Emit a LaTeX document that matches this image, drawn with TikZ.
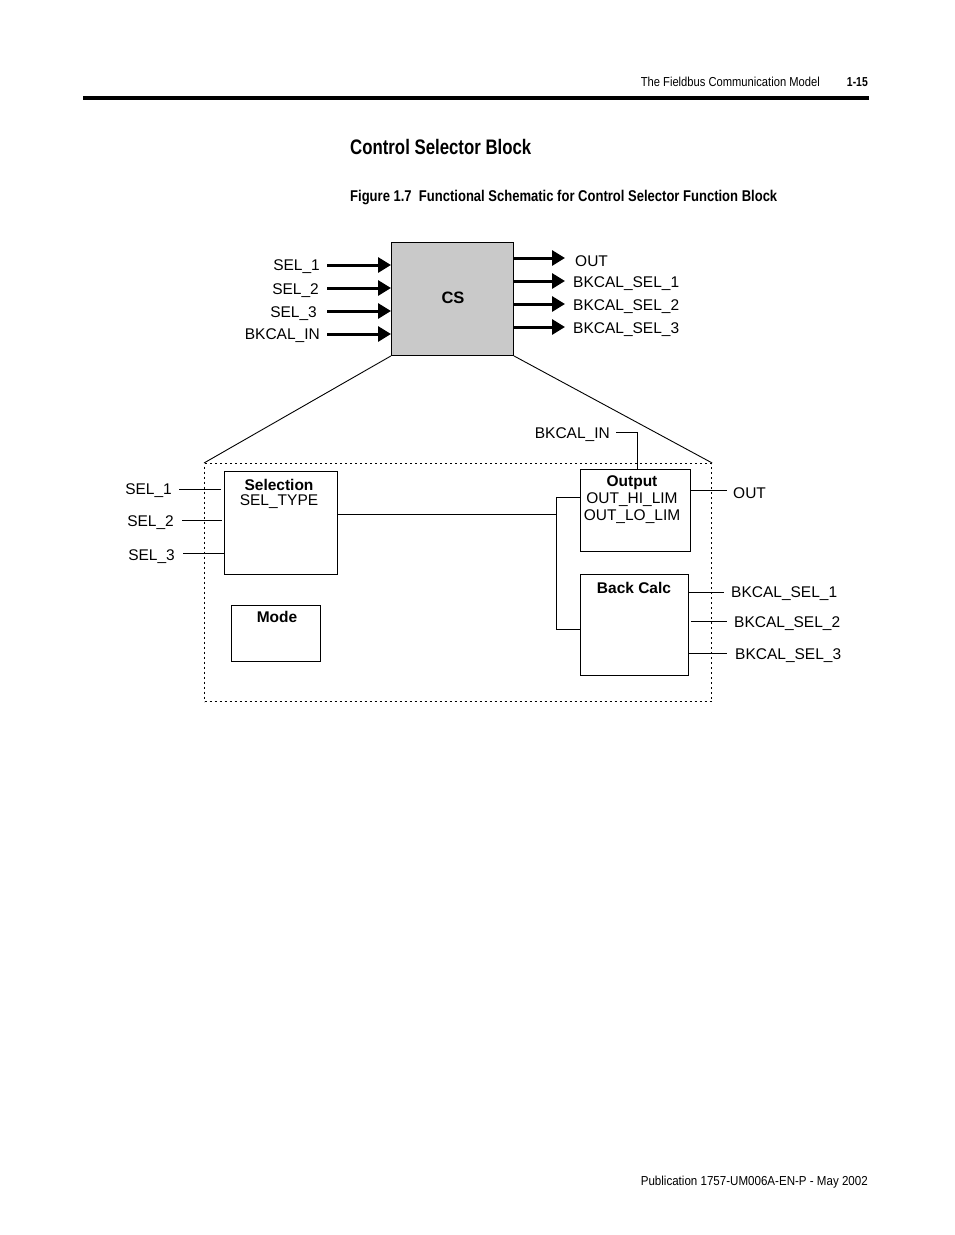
\documentclass[tikz,border=0pt]{standalone}
\usepackage{fontspec}
\setmainfont{Liberation Sans}
\newfontfamily\condfont[FakeStretch=0.89]{Liberation Sans}
\newfontfamily\hdrfont[FakeStretch=0.86]{Liberation Sans}
\newfontfamily\condbold[FakeStretch=0.80]{Liberation Sans Bold}
\newfontfamily\capbold[FakeStretch=0.835]{Liberation Sans Bold}
\usetikzlibrary{arrows.meta}
\begin{document}
\begin{tikzpicture}[x=1pt,y=-1pt,
  lbl/.style={font=\fontsize{15.5}{18}\selectfont, inner sep=0pt, yshift=-2.5pt},
  blbl/.style={font=\fontsize{15.5}{18}\selectfont\bfseries, inner sep=0pt, yshift=-2.5pt},
  box/.style={draw, line width=0.9pt, inner sep=0pt, anchor=north west},
  bigarrow/.style={line width=3pt, -{Triangle[length=13pt,width=15pt]}},
  thin/.style={line width=0.9pt},
  dotbox/.style={line width=1.2pt, dash pattern=on 2pt off 3pt}]
\useasboundingbox (0,0) rectangle (954,1235);

% header / footer
\node[font=\hdrfont\fontsize{13}{15}\selectfont, anchor=east, inner sep=0pt] (hdr) at (820,82) {The Fieldbus Communication Model};
\node[font=\condbold\fontsize{13}{15}\selectfont, anchor=east, inner sep=0pt] (pg) at (868,82) {1-15};
\coordinate (rl) at (83,98);
\coordinate (rr) at (869,98);
\draw[line width=3.5pt] (rl) -- (rr);
\node[font=\condbold\fontsize{21}{24}\selectfont, anchor=west, inner sep=0pt] (title) at (350,147) {Control Selector Block};
\node[font=\capbold\fontsize{15.6}{18}\selectfont, anchor=west, inner sep=0pt] (cap) at (350,197) {Figure 1.7\ \ Functional Schematic for Control Selector Function Block};
\node[font=\condfont\fontsize{13}{15}\selectfont, anchor=east, inner sep=0pt] (ftr) at (868,1182) {Publication 1757-UM006A-EN-P - May 2002};

% CS block
\node[box, fill=black!21, minimum width=122pt, minimum height=113pt] (cs) at (391,242) {};
\node[font=\fontsize{16.5}{18}\selectfont\bfseries, inner sep=0pt] (cst) at (453,298) {CS};

% input arrows
\coordinate (i1) at (327,265);
\coordinate (i2) at (327,288);
\coordinate (i3) at (327,311);
\coordinate (i4) at (327,334);
\draw[bigarrow] (i1) -- (i1 -| cs.west);
\draw[bigarrow] (i2) -- (i2 -| cs.west);
\draw[bigarrow] (i3) -- (i3 -| cs.west);
\draw[bigarrow] (i4) -- (i4 -| cs.west);
\node[lbl, anchor=east] (li1) at (320,264) {SEL\_1};
\node[lbl, anchor=east] (li2) at (319,288) {SEL\_2};
\node[lbl, anchor=east] (li3) at (317,311) {SEL\_3};
\node[lbl, anchor=east] (li4) at (320,333) {BKCAL\_IN};

% output arrows
\coordinate (o1) at (565,258);
\coordinate (o2) at (565,281);
\coordinate (o3) at (565,304);
\coordinate (o4) at (565,327);
\draw[bigarrow] (cs.east |- o1) -- (o1);
\draw[bigarrow] (cs.east |- o2) -- (o2);
\draw[bigarrow] (cs.east |- o3) -- (o3);
\draw[bigarrow] (cs.east |- o4) -- (o4);
\node[lbl, anchor=west] (lo1) at (575,259) {OUT};
\node[lbl, anchor=west] (lo2) at (573,281) {BKCAL\_SEL\_1};
\node[lbl, anchor=west] (lo3) at (573,304) {BKCAL\_SEL\_2};
\node[lbl, anchor=west] (lo4) at (573,327) {BKCAL\_SEL\_3};

% expansion box
\node[box, dotbox, minimum width=507pt, minimum height=238pt] (exp) at (204,463) {};
\draw[thin] (cs.south west) -- (exp.north west);
\draw[thin] (cs.south east) -- (exp.north east);

% inner blocks
\node[box, minimum width=113pt, minimum height=103pt] (sel) at (224,471) {};
\node[blbl] (selt) at (279,482) {Selection};
\node[lbl] (selt2) at (279,499) {SEL\_TYPE};
\node[box, minimum width=89pt, minimum height=56pt] (mode) at (231,605) {};
\node[blbl] (modet) at (277,614) {Mode};
\node[box, minimum width=110pt, minimum height=82pt] (out) at (580,469) {};
\node[blbl] (outt) at (632,480) {Output};
\node[lbl] (outt2) at (632,497) {OUT\_HI\_LIM};
\node[lbl] (outt3) at (632,514) {OUT\_LO\_LIM};
\node[box, minimum width=108pt, minimum height=101pt] (bc) at (580,574) {};
\node[blbl] (bct) at (634,585) {Back Calc};

% left inputs
\node[lbl, anchor=east] (s1) at (172,488) {SEL\_1};
\node[lbl, anchor=east] (s2) at (174,520) {SEL\_2};
\node[lbl, anchor=east] (s3) at (175,554) {SEL\_3};
\coordinate (s1a) at (179,489);
\coordinate (s2a) at (182,520);
\coordinate (s3a) at (183,553);
\draw[thin] (s1a) -- ([xshift=-3pt]sel.west |- s1a);
\draw[thin] (s2a) -- ([xshift=-2pt]sel.west |- s2a);
\draw[thin] (s3a) -- (sel.west |- s3a);

% selection to output / back calc
\coordinate (j1) at (556,514);
\coordinate (j2) at (556,497);
\coordinate (j3) at (556,629);
\draw[thin] (sel.east |- j1) -- (j1);
\draw[thin] (out.west |- j2) -- (j2) -- (j3) -- (bc.west |- j3);

% BKCAL_IN
\node[lbl, anchor=east] (bki) at (610,432) {BKCAL\_IN};
\coordinate (bk1) at (616,432);
\coordinate (bk2) at (637,432);
\draw[thin] (bk1) -- (bk2) -- (bk2 |- out.north);

% outputs
\coordinate (oo) at (727,490);
\coordinate (b1) at (724,592);
\coordinate (b2) at (727,621);
\coordinate (b3) at (727,653);
\draw[thin] (out.east |- oo) -- (oo);
\draw[thin] (bc.east |- b1) -- (b1);
\draw[thin] ([xshift=2pt]bc.east |- b2) -- (b2);
\draw[thin] (bc.east |- b3) -- (b3);
\node[lbl, anchor=west] (oot) at (733,491) {OUT};
\node[lbl, anchor=west] (b1t) at (731,591) {BKCAL\_SEL\_1};
\node[lbl, anchor=west] (b2t) at (734,621) {BKCAL\_SEL\_2};
\node[lbl, anchor=west] (b3t) at (735,653) {BKCAL\_SEL\_3};
\end{tikzpicture}
\end{document}
